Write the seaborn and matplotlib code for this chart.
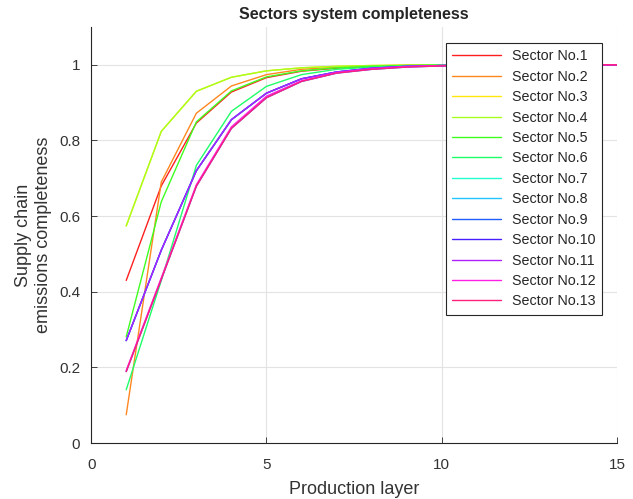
import colorsys
import numpy as np
import pandas as pd
import matplotlib
matplotlib.use("Agg")
import matplotlib.pyplot as plt
import seaborn as sns

# production layers 1..15
layers = list(range(1, 16))

s1 = [0.430, 0.680, 0.846, 0.928, 0.966, 0.983, 0.991, 0.996, 0.998, 0.999, 1, 1, 1, 1, 1]
s2 = [0.075, 0.690, 0.872, 0.944, 0.974, 0.988, 0.994, 0.997, 0.999, 1, 1, 1, 1, 1, 1]
s3 = [0.574, 0.824, 0.930, 0.967, 0.984, 0.992, 0.996, 0.998, 0.999, 1, 1, 1, 1, 1, 1]
s4 = [0.574, 0.824, 0.930, 0.967, 0.984, 0.992, 0.996, 0.998, 0.999, 1, 1, 1, 1, 1, 1]
s5 = [0.281, 0.638, 0.849, 0.931, 0.968, 0.984, 0.992, 0.996, 0.998, 0.999, 1, 1, 1, 1, 1]
s6 = [0.141, 0.430, 0.734, 0.877, 0.943, 0.974, 0.988, 0.994, 0.997, 0.999, 1, 1, 1, 1, 1]
s7 = [0.271, 0.510, 0.720, 0.855, 0.925, 0.963, 0.981, 0.991, 0.996, 0.998, 0.999, 1, 1, 1, 1]
s8 = [0.271, 0.510, 0.720, 0.855, 0.925, 0.963, 0.981, 0.991, 0.996, 0.998, 0.999, 1, 1, 1, 1]
s9 = [0.189, 0.433, 0.679, 0.832, 0.913, 0.956, 0.978, 0.988, 0.994, 0.997, 0.999, 1, 1, 1, 1]
s10 = [0.271, 0.510, 0.720, 0.855, 0.925, 0.963, 0.981, 0.991, 0.996, 0.998, 0.999, 1, 1, 1, 1]
s11 = [0.271, 0.510, 0.720, 0.855, 0.925, 0.963, 0.981, 0.991, 0.996, 0.998, 0.999, 1, 1, 1, 1]
s12 = [0.192, 0.437, 0.683, 0.836, 0.917, 0.958, 0.979, 0.989, 0.995, 0.998, 0.999, 1, 1, 1, 1]
s13 = [0.189, 0.433, 0.679, 0.832, 0.913, 0.956, 0.978, 0.988, 0.994, 0.997, 0.999, 1, 1, 1, 1]

series = [s1, s2, s3, s4, s5, s6, s7, s8, s9, s10, s11, s12, s13]
names = ["Sector No.%d" % (i + 1) for i in range(len(series))]

rows = []
for name, vals in zip(names, series):
    for x, y in zip(layers, vals):
        rows.append({"layer": x, "completeness": y, "sector": name})
df = pd.DataFrame(rows)

# hsv-like palette, red -> pink
hues = np.linspace(0, 0.93, len(names))
palette = [colorsys.hsv_to_rgb(h, 0.88, 1.0) for h in hues]
palette[2] = colorsys.hsv_to_rgb(0.15, 0.95, 1.0)

sns.set_style("white")
plt.rcParams['font.family'] = ['Liberation Sans', 'DejaVu Sans']

fig = plt.figure(figsize=(6.33, 4.99), dpi=100)
ax = fig.add_axes([0.144, 0.112, 0.831, 0.834])

sns.lineplot(data=df, x="layer", y="completeness", hue="sector", hue_order=names,
             palette=palette, linewidth=1.0, ax=ax)

ax.set_xlim(0, 15)
ax.set_ylim(0, 1.1)
ax.set_xticks([0, 5, 10, 15])
ax.set_yticks([0, 0.2, 0.4, 0.6, 0.8, 1.0])
ax.set_yticklabels(["0", "0.2", "0.4", "0.6", "0.8", "1"])
ax.grid(True, color="#e3e3e3", linewidth=0.8)
ax.set_axisbelow(True)
for side in ["top", "right"]:
    ax.spines[side].set_visible(False)
for side in ["left", "bottom"]:
    ax.spines[side].set_color("#262626")
    ax.spines[side].set_linewidth(0.8)
ax.tick_params(direction="in", length=4, width=0.6, colors="#262626",
               labelsize=11, labelcolor="#333333", left=True, bottom=True)
ax.tick_params(axis="y", pad=8)
ax.tick_params(axis="x", pad=11)

ax.set_title("Sectors system completeness", fontsize=11.5, fontweight="bold", pad=6)
ax.set_xlabel("Production layer", fontsize=13, color="#333333", labelpad=6)
ax.set_ylabel("Supply chain\nemissions completeness", fontsize=13, color="#333333", labelpad=5)

leg = ax.legend(loc="upper right", bbox_to_anchor=(0.9715, 0.962), borderaxespad=0,
                fontsize=10.3, handlelength=3.4, labelspacing=0.45, borderpad=0.45,
                fancybox=False, framealpha=1, edgecolor="#262626")
leg.get_frame().set_linewidth(0.8)

fig.savefig("out.png", dpi=100)
